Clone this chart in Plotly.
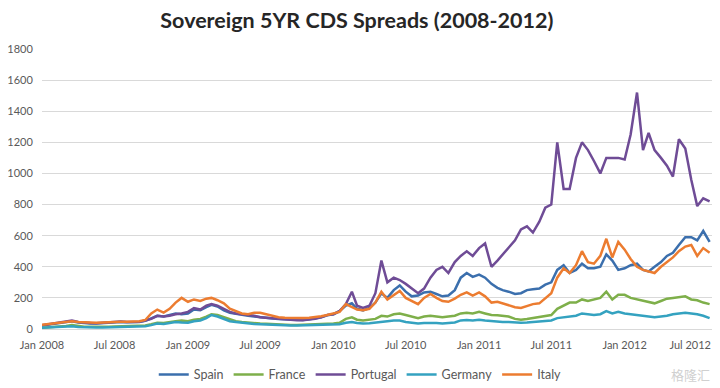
import pandas as pd
import plotly.graph_objects as go

# semi-monthly observation dates (1st and 16th), Jan 2008 .. Aug 2012
dates = []
for yr in range(2008, 2013):
    for mo in range(1, 13):
        if yr == 2012 and mo > 7:
            break
        dates.append(f"{yr}-{mo:02d}-01")
        dates.append(f"{yr}-{mo:02d}-16")
dates.append("2012-08-01")

spain = [
    22, 28, 35, 40, 45, 50, 42, 38, 36, 35, 38, 40, 42, 45, 43, 42, 45, 52, 70, 85, 80, 90, 100, 95,
    100, 125, 120, 140, 155, 145, 120, 105, 100, 95, 85, 80, 75, 72, 68, 65, 63, 62, 60, 58, 62, 68, 75, 88,
    95, 115, 150, 165, 130, 120, 135, 170, 230, 200, 250, 280, 240, 210, 215, 235, 240, 225, 210, 215, 250, 330, 360, 335,
    350, 330, 290, 265, 250, 240, 225, 230, 250, 255, 260, 285, 300, 380, 410, 360, 380, 420, 390, 390, 400, 480, 440, 380,
    390, 410, 420, 380, 370, 400, 430, 470, 490, 540, 590, 590, 570, 630, 560,
]
france = [
    8, 10, 14, 18, 20, 25, 18, 15, 14, 13, 14, 15, 16, 17, 16, 16, 17, 22, 30, 40, 38, 42, 50, 55,
    50, 60, 65, 80, 95, 90, 75, 60, 50, 45, 40, 38, 35, 33, 30, 28, 27, 26, 26, 27, 28, 28, 30, 32,
    35, 40, 65, 75, 60, 55, 60, 65, 85, 80, 95, 100, 90, 80, 70, 80, 85, 80, 75, 80, 85, 100, 105, 100,
    110, 100, 90, 88, 85, 80, 65, 60, 65, 70, 80, 85, 90, 130, 150, 170, 170, 190, 180, 190, 200, 240, 190, 220,
    220, 200, 190, 180, 170, 165, 180, 195, 200, 205, 210, 190, 185, 170, 160,
]
portugal = [
    24, 30, 35, 40, 45, 55, 45, 40, 38, 37, 40, 42, 45, 48, 45, 44, 46, 55, 65, 85, 80, 85, 95, 100,
    110, 135, 125, 150, 160, 150, 130, 110, 100, 95, 90, 85, 75, 72, 65, 62, 60, 58, 57, 57, 60, 65, 75, 90,
    95, 115, 160, 240, 150, 135, 150, 230, 440, 300, 330, 315, 290, 260, 230, 260, 330, 380, 400, 360, 430, 470, 500, 470,
    520, 550, 400, 440, 480, 520, 570, 640, 660, 620, 690, 780, 800, 1200, 900, 900, 1100, 1200, 1150, 1080, 1000, 1100, 1100, 1100,
    1090, 1250, 1520, 1150, 1260, 1150, 1100, 1050, 980, 1220, 1160, 960, 790, 840, 820,
]
germany = [
    8, 9, 11, 14, 15, 17, 13, 11, 10, 9, 10, 11, 12, 13, 12, 12, 13, 18, 25, 35, 32, 38, 45, 42,
    40, 50, 55, 70, 90, 80, 65, 50, 45, 40, 35, 32, 30, 28, 26, 25, 24, 23, 23, 24, 25, 25, 26, 27,
    28, 30, 40, 45, 38, 35, 37, 40, 45, 50, 55, 55, 45, 40, 35, 38, 40, 38, 36, 38, 42, 55, 58, 55,
    60, 55, 50, 48, 45, 45, 42, 40, 42, 45, 48, 52, 55, 70, 75, 80, 85, 100, 95, 90, 95, 115, 100, 110,
    100, 95, 90, 85, 80, 75, 80, 85, 95, 100, 105, 100, 95, 85, 70,
]
italy = [
    28, 33, 38, 42, 45, 50, 45, 42, 42, 40, 42, 45, 45, 47, 46, 46, 50, 58, 100, 125, 105, 130, 170, 200,
    175, 190, 180, 195, 200, 185, 165, 130, 115, 100, 95, 105, 105, 95, 85, 75, 72, 70, 70, 70, 72, 75, 82, 90,
    100, 110, 160, 140, 125, 120, 130, 170, 240, 190, 220, 245, 200, 180, 160, 200, 225, 200, 180, 175, 195, 220, 235, 215,
    235, 210, 170, 175, 165, 150, 140, 135, 150, 160, 165, 200, 230, 330, 390, 360, 410, 500, 430, 420, 470, 580, 460, 560,
    510, 450, 400, 380, 370, 360, 400, 430, 460, 500, 530, 540, 470, 520, 490,
]

series_names = ["Spain", "France", "Portugal", "Germany", "Italy"]
series_values = [spain, france, portugal, germany, italy]
colors = ["#3B6FAD", "#7EAF4A", "#6F4C96", "#34A2C0", "#EC7C30"]

tick_dates = ["2008-01-01", "2008-07-01", "2009-01-01", "2009-07-01", "2010-01-01",
              "2010-07-01", "2011-01-01", "2011-07-01", "2012-01-01", "2012-07-01"]
tick_labels = ["Jan 2008", "Jul 2008", "Jan 2009", "Jul 2009", "Jan 2010",
               "Jul 2010", "Jan 2011", "Jul 2011", "Jan 2012", "Jul 2012"]
y_ticks = [0, 200, 400, 600, 800, 1000, 1200, 1400, 1600, 1800]

x = pd.to_datetime(dates)

fig = go.Figure()
for name, vals, col in zip(series_names, series_values, colors):
    fig.add_trace(go.Scatter(x=x, y=vals, name=name, mode="lines",
                             line=dict(color=col, width=2.5)))

# keep the last tick label inside the page edge (padding with non-breaking spaces)
shown_labels = tick_labels[:-1] + [tick_labels[-1] + "&nbsp;" * 5]

# The page body adds an 8px margin, so the figure is 712x380 drawn at (8, 8).
W, H = 712, 380
font_main = "Lato, 'Open Sans', sans-serif"
fig.update_layout(
    width=W, height=H,
    paper_bgcolor="white", plot_bgcolor="white",
    margin=dict(l=34, r=8, t=41, b=59, autoexpand=False),
    title=dict(text="<b>Sovereign 5YR CDS Spreads (2008-2012)</b>",
               x=0.49, xanchor="center", y=1 - 12.5 / H, yanchor="middle",
               font=dict(family=font_main, size=21.5, color="#262626")),
    font=dict(family=font_main, size=11, color="#595959"),
    showlegend=True,
    legend=dict(orientation="h", x=0.475, xanchor="center", y=-0.164, yanchor="middle",
                font=dict(family=font_main, size=12.5, color="#595959"),
                itemwidth=30, tracegroupgap=0, bgcolor="rgba(0,0,0,0)"),
    xaxis=dict(type="date", range=["2008-01-01", "2012-08-07"], automargin=False,
               tickvals=pd.to_datetime(tick_dates), ticktext=shown_labels,
               showgrid=False, zeroline=False, showline=False,
               ticks="outside", ticklen=6, tickcolor="rgba(0,0,0,0)",
               ticklabeloverflow="allow",
               tickfont=dict(family=font_main, size=11, color="#595959")),
    yaxis=dict(range=[0, 1800], tickvals=y_ticks, showgrid=True, automargin=False,
               gridcolor="#D9D9D9", gridwidth=1.3, zeroline=True,
               zerolinecolor="#D9D9D9", zerolinewidth=1.3, showline=False,
               ticks="outside", ticklen=6, tickcolor="rgba(0,0,0,0)",
               tickfont=dict(family=font_main, size=11, color="#595959")),
    annotations=[dict(text="格隆汇", x=1.0, xref="paper", xanchor="right",
                      y=-0.164, yref="paper", yanchor="middle", showarrow=False,
                      font=dict(family="Noto Sans CJK SC", size=13, color="#D0D0D0"))],
)

fig.write_html("out.html")
